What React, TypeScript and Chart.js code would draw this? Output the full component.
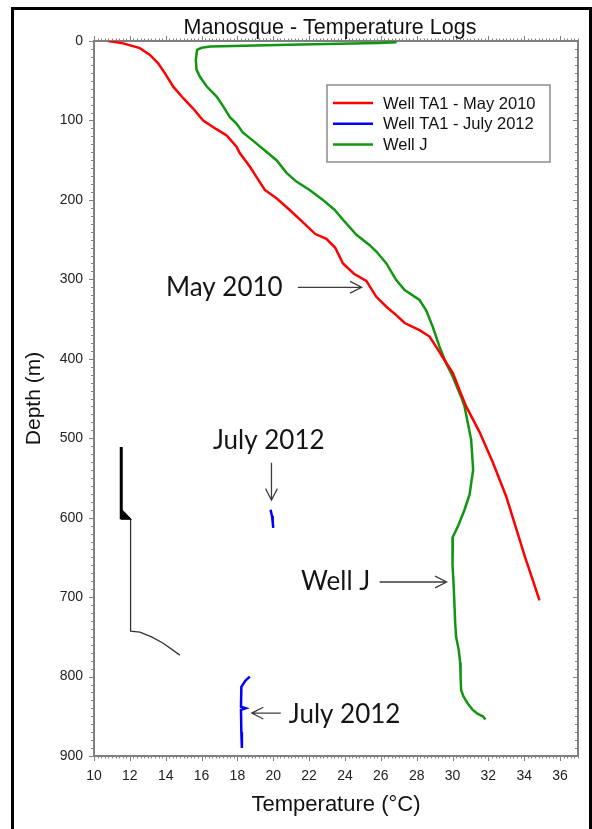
import React, { useEffect, useRef } from 'react';
import { Chart, registerables } from 'chart.js';

Chart.register(...registerables);

const CHART_TITLE = 'Manosque - Temperature Logs';
const X_TITLE = 'Temperature (°C)';
const Y_TITLE = 'Depth (m)';

const X_MIN = 10;
const X_MAX = 37;
const X_STEP = 2;
const Y_MIN = 0;
const Y_MAX = 900;
const Y_STEP = 100;

const seriesLabels = ['Well TA1 - May 2010', 'Well TA1 - July 2012', 'Well J'];
const seriesColors = ['#ff0000', '#0000ff', '#109610'];

// [temperature °C, depth m]
const may2010 = [
  [10.8, 0], [11.63, 3], [12.56, 9], [13.12, 17.6], [13.58, 28], [13.96, 40.7], [14.42, 57.5],
  [14.98, 72], [15.53, 85], [16.09, 100], [16.83, 111], [17.4, 119], [17.95, 133], [18.13, 141],
  [18.69, 158], [19.06, 171], [19.53, 187.5], [20.18, 198], [20.92, 212.7], [21.6, 227],
  [22.35, 243], [22.96, 249], [23.45, 260], [23.89, 280], [24.5, 293], [25.19, 302],
  [25.75, 322], [26.31, 334.5], [26.86, 345], [27.33, 355], [28.16, 364], [28.72, 372],
  [29.09, 385], [29.55, 401.5], [30.02, 418], [30.4, 440], [30.76, 460], [31.5, 492],
  [32.24, 530], [32.99, 573], [33.64, 620], [34.05, 650], [34.47, 678], [34.85, 704],
];

const july2012Upper = [[19.85, 590], [19.93, 598], [19.97, 606], [20.0, 613]];
const july2012Lower = [
  [18.69, 800], [18.45, 805], [18.22, 813], [18.2, 838], [18.47, 840], [18.2, 842],
  [18.22, 870], [18.25, 890],
];

const wellJ = [
  [26.88, 1.5], [25.9, 2.5], [21.5, 4.5], [16.5, 7], [16.0, 8.5], [15.75, 11], [15.68, 24],
  [15.72, 36], [15.91, 45], [16.28, 57], [16.84, 70], [17.2, 82], [17.58, 96], [17.95, 104],
  [18.3, 115], [18.9, 126], [19.43, 136], [20.18, 150], [20.74, 166], [21.29, 177],
  [22.03, 187.5], [22.77, 200], [23.43, 212.7], [23.89, 225], [24.64, 244], [25.38, 257],
  [25.75, 265], [26.31, 280], [26.86, 301], [27.33, 313.5], [28.16, 326], [28.53, 339],
  [28.9, 360], [29.28, 385], [29.65, 406], [30.02, 423], [30.48, 448], [30.67, 460],
  [31.04, 502], [31.15, 540], [30.95, 571], [30.67, 590], [30.3, 611], [30.02, 624],
  [29.98, 636], [30.02, 660], [30.06, 683], [30.15, 733], [30.2, 750], [30.35, 767],
  [30.43, 783], [30.45, 800], [30.48, 817], [30.61, 825], [30.85, 834], [31.13, 842],
  [31.41, 847], [31.69, 850], [31.84, 854],
];

// well schematic drawn in the lower left
const casingThick = [[11.52, 511], [11.52, 602]];
const casingShoe = [[11.52, 589], [12.08, 602], [11.52, 602], [11.52, 589]];
const casingThin = [[12.04, 602], [12.04, 743], [12.56, 744], [13.21, 750], [13.86, 758], [14.79, 773]];

// annotations: text and arrows (temperature, depth)
const noteTexts = ['May 2010', 'July 2012', 'Well J', 'July 2012'];
const noteAt = [[17.27, 310], [19.75, 503], [23.48, 680], [23.98, 848]];
const arrowFrom = [[21.37, 310], [19.9, 531], [25.93, 681], [20.42, 846]];
const arrowTo = [[24.93, 310], [19.9, 578], [29.67, 681], [18.8, 846]];

const SANS = '"Liberation Sans", Arial, sans-serif';
const AXIS_COLOR = '#808080';

const toXY = (arr: number[][]) => arr.map(([x, y]) => ({ x, y }));

const framePlugin = {
  id: 'frameTicks',
  beforeDatasetsDraw(chart: any) {
    const { ctx, chartArea: a, scales } = chart;
    const xs = scales.x;
    const ys = scales.y;
    ctx.save();
    ctx.strokeStyle = AXIS_COLOR;
    ctx.lineWidth = 1;
    const seg = (x1: number, y1: number, x2: number, y2: number) => {
      ctx.beginPath();
      ctx.moveTo(x1, y1);
      ctx.lineTo(x2, y2);
      ctx.stroke();
    };
    for (let i = X_MIN * 5; i <= X_MAX * 5; i++) {
      const p = Math.round(xs.getPixelForValue(i / 5)) + 0.5;
      const major = i % (X_STEP * 5) === 0;
      const len = major ? 5 : 2.5;
      seg(p, a.bottom, p, a.bottom + len);
      seg(p, a.top, p, a.top - len);
    }
    for (let d = Y_MIN; d <= Y_MAX; d += 10) {
      const p = Math.round(ys.getPixelForValue(d)) + 0.5;
      const major = d % Y_STEP === 0;
      const len = major ? 5 : 3;
      seg(a.left - len, p, a.left, p);
      seg(a.right - len, p, a.right, p);
    }
    ctx.lineWidth = 2;
    ctx.strokeRect(a.left, a.top, a.right - a.left, a.bottom - a.top);
    ctx.restore();
  },
  afterDraw(chart: any) {
    const { ctx, chartArea: a, scales } = chart;
    const xs = scales.x;
    const ys = scales.y;
    ctx.save();
    // title
    ctx.fillStyle = '#111';
    ctx.font = `21.5px ${SANS}`;
    ctx.textAlign = 'center';
    ctx.textBaseline = 'middle';
    ctx.fillText(CHART_TITLE, a.left + 236, a.top - 13);

    // legend
    const lx = a.left + 233;
    const ly = a.top + 44;
    ctx.strokeStyle = '#8c8c8c';
    ctx.lineWidth = 1.5;
    ctx.strokeRect(lx, ly, 223, 77);
    ctx.font = `16.5px ${SANS}`;
    ctx.textAlign = 'left';
    seriesLabels.forEach((lab, i) => {
      const ry = ly + 18 + i * 20.7;
      ctx.strokeStyle = seriesColors[i];
      ctx.lineWidth = 2.5;
      ctx.beginPath();
      ctx.moveTo(lx + 6, ry);
      ctx.lineTo(lx + 46, ry);
      ctx.stroke();
      ctx.fillStyle = '#111';
      ctx.fillText(lab, lx + 56, ry + 1);
    });

    // annotations
    ctx.font = '26px Lato, "Open Sans", sans-serif';
    ctx.textAlign = 'center';
    ctx.fillStyle = '#151515';
    noteTexts.forEach((t, i) => {
      ctx.fillText(t, xs.getPixelForValue(noteAt[i][0]), ys.getPixelForValue(noteAt[i][1]));
    });
    ctx.strokeStyle = '#3c3c3c';
    ctx.lineWidth = 1.3;
    arrowFrom.forEach((f, i) => {
      const x1 = xs.getPixelForValue(f[0]);
      const y1 = ys.getPixelForValue(f[1]);
      const x2 = xs.getPixelForValue(arrowTo[i][0]);
      const y2 = ys.getPixelForValue(arrowTo[i][1]);
      const ang = Math.atan2(y2 - y1, x2 - x1);
      const hl = 13;
      const sp = 0.47;
      ctx.beginPath();
      ctx.moveTo(x1, y1);
      ctx.lineTo(x2, y2);
      ctx.moveTo(x2 - hl * Math.cos(ang - sp), y2 - hl * Math.sin(ang - sp));
      ctx.lineTo(x2, y2);
      ctx.lineTo(x2 - hl * Math.cos(ang + sp), y2 - hl * Math.sin(ang + sp));
      ctx.stroke();
    });
    ctx.restore();
  },
};

export default function App() {
  const canvasRef = useRef<HTMLCanvasElement | null>(null);

  useEffect(() => {
    if (!canvasRef.current) return;
    const line = (data: number[][], color: string, width: number, extra: any = {}) => ({
      data: toXY(data),
      showLine: true,
      borderColor: color,
      backgroundColor: color,
      borderWidth: width,
      pointRadius: 0,
      tension: 0,
      fill: false,
      ...extra,
    });
    const chart = new Chart(canvasRef.current, {
      type: 'scatter',
      data: {
        datasets: [
          { label: seriesLabels[0], ...line(may2010, seriesColors[0], 2.5) },
          { label: seriesLabels[1], ...line(july2012Upper, seriesColors[1], 2.5) },
          { label: seriesLabels[1], ...line(july2012Lower, seriesColors[1], 2.5) },
          { label: seriesLabels[2], ...line(wellJ, seriesColors[2], 2.5) },
          { label: 'casing', ...line(casingThick, '#000', 3) },
          { label: 'shoe', ...line(casingShoe, '#000', 1, { fill: 'shape', backgroundColor: '#000' }) },
          { label: 'casing2', ...line(casingThin, '#333', 1.3) },
        ],
      },
      options: {
        animation: false,
        responsive: false,
        devicePixelRatio: 1,
        layout: { padding: { top: 41, right: 14, bottom: 0, left: 0 } },
        font: { family: SANS },
        plugins: {
          legend: { display: false },
          title: { display: false },
          tooltip: { enabled: false },
        },
        scales: {
          x: {
            type: 'linear',
            position: 'bottom',
            min: X_MIN,
            max: X_MAX,
            grid: { display: false, drawTicks: false },
            border: { display: false },
            ticks: {
              stepSize: X_STEP,
              includeBounds: false,
              padding: 12,
              maxRotation: 0,
              autoSkip: false,
              color: '#222',
              font: { family: SANS, size: 14 },
            },
            title: {
              display: true,
              text: X_TITLE,
              color: '#111',
              font: { family: SANS, size: 22 },
              padding: { top: 0, bottom: 11 },
            },
            afterFit: (s: any) => { s.height = 73; },
          },
          y: {
            type: 'linear',
            reverse: true,
            min: Y_MIN,
            max: Y_MAX,
            grid: { display: false, drawTicks: false },
            border: { display: false },
            ticks: {
              stepSize: Y_STEP,
              padding: 11,
              color: '#222',
              font: { family: SANS, size: 14 },
            },
            title: {
              display: true,
              text: Y_TITLE,
              color: '#111',
              font: { family: SANS, size: 21 },
              padding: { top: 22, bottom: 0 },
            },
            afterFit: (s: any) => { s.width = 94; },
          },
        },
      } as any,
      plugins: [framePlugin],
    });
    return () => chart.destroy();
  }, []);

  return (
    <div style={{ position: 'fixed', left: 0, top: 0, width: 592, height: 829, background: '#fff', overflow: 'hidden' }}>
      <canvas ref={canvasRef} width={592} height={829} style={{ display: 'block', width: 592, height: 829 }} />
      <div
        style={{
          position: 'absolute',
          left: 11,
          top: 7,
          width: 575,
          height: 900,
          border: '3px solid #000',
          pointerEvents: 'none',
        }}
      />
    </div>
  );
}
